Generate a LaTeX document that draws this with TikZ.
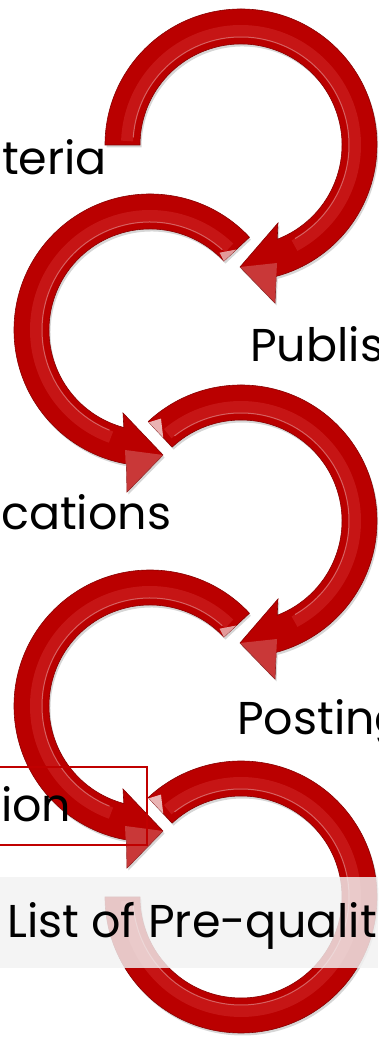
\documentclass[tikz,border=0pt]{standalone}
\usepackage{fontspec}
\setmainfont{Poppins}
\definecolor{arrowred}{RGB}{186,0,0}
\definecolor{arrowdark}{RGB}{135,0,0}
\definecolor{arrowshine}{RGB}{226,70,70}
\definecolor{boxred}{RGB}{192,0,0}
\definecolor{bandgray}{RGB}{242,242,242}
\begin{document}
\begin{tikzpicture}[x = 1pt, y = 1pt,
    arrowbody/.style = {fill = arrowred, draw = arrowdark, line width = 0.6pt,
      preaction = {fill = black, opacity = 0.16,
        transform canvas = {xshift = 1.5pt, yshift = -2.5pt}}},
    shine/.style = {draw = arrowshine, line width = 12pt, opacity = 0.3},
    gleam/.style = {draw = white, line width = 1pt, opacity = 0.35},
    facet/.style = {fill = white, opacity = 0.22},
    steptext/.style = {font = \fontsize{46}{54}\selectfont, inner sep = 0pt}]
  \useasboundingbox (0, 0) rectangle (378, 1041);
  \clip (0, 0) rectangle (378, 1041);

  % first arrow, clockwise
  \begin{scope}[shift = {(241, 896)}]
    \draw[arrowbody] (180:136) arc[start angle = 180, end angle = -75, radius = 136]
      -- (34, -158) -- (-1, -122) -- (37, -78) -- (-69:101)
      arc[start angle = -69, end angle = 180, radius = 101] -- cycle;
    \draw[shine] (178:114) arc[start angle = 178, end angle = -62, radius = 114];
    \draw[gleam] (176:108) arc[start angle = 176, end angle = -60, radius = 108];
    \fill[facet] (-1, -122) -- (34, -158) -- (36, -118) -- cycle;
  \end{scope}

  % second arrow, counterclockwise
  \begin{scope}[shift = {(150, 711)}]
    \draw[arrowbody] (43:101) -- (43:136) arc[start angle = 43, end angle = 260, radius = 136]
      -- (-23, -162) -- (13, -125) -- (-27, -83) -- (255:101)
      arc[start angle = 255, end angle = 43, radius = 101] -- cycle;
    \draw[shine] (46:114) arc[start angle = 46, end angle = 250, radius = 114];
    \draw[gleam] (48:108) arc[start angle = 48, end angle = 248, radius = 108];
    \fill[facet] (13, -125) -- (-23, -162) -- (-25, -120) -- cycle;
    \fill[white, opacity = 0.6] (43:101) -- (43:118) -- (48:104) -- cycle;
  \end{scope}

  % third arrow, clockwise
  \begin{scope}[shift = {(241, 520)}]
    \draw[arrowbody] (133:136) arc[start angle = 133, end angle = -75, radius = 136]
      -- (34, -158) -- (-1, -122) -- (37, -78) -- (-69:101)
      arc[start angle = -69, end angle = 133, radius = 101] -- cycle;
    \draw[shine] (130:114) arc[start angle = 130, end angle = -62, radius = 114];
    \draw[gleam] (128:108) arc[start angle = 128, end angle = -60, radius = 108];
    \fill[facet] (-1, -122) -- (34, -158) -- (36, -118) -- cycle;
    \fill[white, opacity = 0.7] (133:135) -- (133:114) -- (128:130) -- cycle;
  \end{scope}

  % fourth arrow, counterclockwise
  \begin{scope}[shift = {(150, 335)}]
    \draw[arrowbody] (43:101) -- (43:136) arc[start angle = 43, end angle = 260, radius = 136]
      -- (-23, -162) -- (13, -125) -- (-27, -83) -- (255:101)
      arc[start angle = 255, end angle = 43, radius = 101] -- cycle;
    \draw[shine] (46:114) arc[start angle = 46, end angle = 250, radius = 114];
    \draw[gleam] (48:108) arc[start angle = 48, end angle = 248, radius = 108];
    \fill[facet] (13, -125) -- (-23, -162) -- (-25, -120) -- cycle;
    \fill[white, opacity = 0.6] (43:101) -- (43:118) -- (48:104) -- cycle;
  \end{scope}

  % last ring, no head
  \begin{scope}[shift = {(241, 144)}]
    \draw[arrowbody] (133:136) arc[start angle = 133, end angle = -180, radius = 136]
      -- (180:101) arc[start angle = -180, end angle = 133, radius = 101] -- cycle;
    \draw[shine] (130:114) arc[start angle = 130, end angle = -178, radius = 114];
    \draw[gleam] (128:108) arc[start angle = 128, end angle = -176, radius = 108];
    \fill[white, opacity = 0.7] (133:135) -- (133:114) -- (128:130) -- cycle;
  \end{scope}

  \node[steptext, anchor = base west] (criteria) at (2, 866) {teria};
  \node[steptext, anchor = base west] (publish) at (250, 679) {Publis};
  \node[steptext, anchor = base west] (applications) at (1, 511) {cations};
  \node[steptext, anchor = base west] (posting) at (237, 306) {Posting};

  \draw[boxred, line width = 1.2pt] (-5, 196) rectangle (147, 274);
  \node[steptext, anchor = base west] (evaluation) at (1, 219) {ion};

  \fill[bandgray, opacity = 0.82] (0, 73) rectangle (378, 164);
  \node[steptext, anchor = base west] (shortlist) at (7, 103) {List of Pre-qualit};
\end{tikzpicture}
\end{document}
